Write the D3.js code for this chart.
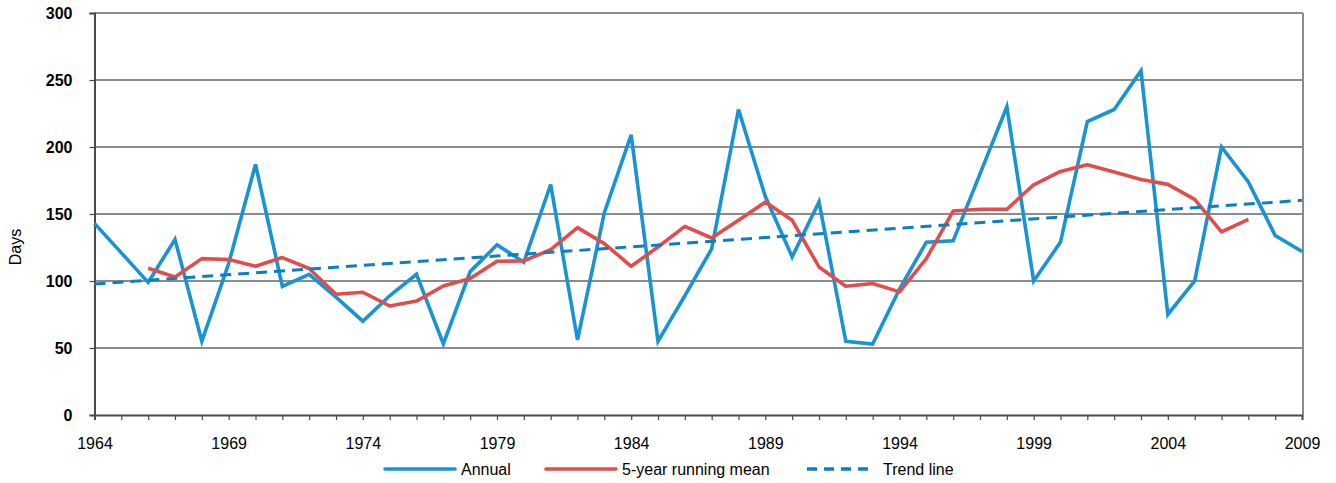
<!DOCTYPE html>
<html>
<head>
<meta charset="utf-8">
<script src="https://cdn.jsdelivr.net/npm/d3@7"></script>
<style>
  html, body { margin: 0; padding: 0; background: #fff; }
  svg text { font-family: "Liberation Sans", Arial, sans-serif; }
</style>
</head>
<body>
<svg id="chart" width="1336" height="483"></svg>
<script>
const years = d3.range(1964, 2010);
const annual = [143, 121, 99, 131, 55, 113, 187, 96, 105, 88,
                70, 89, 105, 53, 107, 127, 114, 172, 56, 151,
                209, 55, 89, 124, 228, 163, 118, 159, 55, 53,
                94, 129, 130, 180, 230, 100, 129, 219, 228, 257,
                75, 100, 200, 174, 134, 122];
const meanYears = d3.range(1966, 2008);
const runningMean = [109.5, 103, 116.7, 116, 111, 117.5, 109.3, 90.1, 91.6, 81.4,
                     85, 96.3, 101.8, 114.7, 115, 123.4, 139.8, 127.9, 111, 125.4,
                     140.8, 132.1, 145.3, 158.9, 145.3, 110.5, 96.1, 98.1, 91.9, 116.7,
                     152.2, 153.5, 153.5, 171.8, 181.8, 186.7, 181.3, 175.8, 172.1, 160.9,
                     136.6, 146];
const trendYears = [1964, 2009];
const trendValues = [97.8, 160.2];
const yTicks = [0, 50, 100, 150, 200, 250, 300];
const xLabelYears = [1964, 1969, 1974, 1979, 1984, 1989, 1994, 1999, 2004, 2009];
const seriesNames = ["Annual", "5-year running mean", "Trend line"];
const yTitle = "Days";

(function () {
const svg = d3.select("#chart");
const mLeft = 94.5, mRight = 1302, mTop = 13, mBottom = 415;
const x = d3.scaleLinear().domain([1964, 2009]).range([mLeft, mRight]);
const y = d3.scaleLinear().domain([0, 300]).range([mBottom, mTop]);

const blue = "#1894d3", red = "#e14d4d", trendBlue = "#0b7fc4";
const fs = "16px";

// gridlines
svg.append("g").selectAll("line").data(yTicks.filter(v => v > 0 && v < 300)).join("line")
  .attr("x1", mLeft).attr("x2", mRight)
  .attr("y1", d => y(d)).attr("y2", d => y(d))
  .attr("stroke", "#1a1a1a").attr("stroke-width", 1.2);

// plot frame (top and right)
svg.append("line").attr("x1", mLeft).attr("x2", mRight + 1).attr("y1", y(300)).attr("y2", y(300))
  .attr("stroke", "#8c8c8c").attr("stroke-width", 2);
svg.append("line").attr("x1", mRight + 1).attr("x2", mRight + 1).attr("y1", y(300)).attr("y2", mBottom)
  .attr("stroke", "#8c8c8c").attr("stroke-width", 2);

// y axis
const yAxis = d3.axisLeft(y).tickValues(yTicks).tickSize(5).tickPadding(17).tickFormat(d3.format("d"));
const gy = svg.append("g").attr("transform", `translate(${mLeft},0)`).call(yAxis);
gy.select(".domain").attr("stroke", "#4a4a4a").attr("stroke-width", 2);
gy.selectAll(".tick line").attr("stroke", "#4a4a4a").attr("stroke-width", 1.2);
gy.selectAll(".tick text").attr("font-size", fs).attr("font-weight", "bold")
  .attr("fill", "#000").style("font-family", "'Liberation Sans', Arial, sans-serif");

// x axis
const xAxis = d3.axisBottom(x).tickValues(years).tickSize(5).tickPadding(18)
  .tickFormat(d => xLabelYears.includes(d) ? String(d) : "");
const gx = svg.append("g").attr("transform", `translate(0,${mBottom})`).call(xAxis);
gx.select(".domain").attr("stroke", "#4a4a4a").attr("stroke-width", 2);
gx.selectAll(".tick line").attr("stroke", "#4a4a4a").attr("stroke-width", 1.2);
gx.selectAll(".tick text").attr("font-size", fs).attr("fill", "#000")
  .style("font-family", "'Liberation Sans', Arial, sans-serif");

// y title
svg.append("text").attr("transform", "translate(21,247) rotate(-90)")
  .attr("text-anchor", "middle").attr("font-size", fs).attr("fill", "#000").text(yTitle);

const line = d3.line().x(d => x(d[0])).y(d => y(d[1]));

// annual
svg.append("path").datum(years.map((yr, i) => [yr, annual[i]]))
  .attr("d", line).attr("fill", "none").attr("stroke", blue)
  .attr("stroke-width", 3.6).attr("stroke-linejoin", "miter");

// running mean
svg.append("path").datum(meanYears.map((yr, i) => [yr, runningMean[i]]))
  .attr("d", line).attr("fill", "none").attr("stroke", red)
  .attr("stroke-width", 3.6).attr("stroke-linejoin", "round");

// trend
svg.append("path").datum(trendYears.map((yr, i) => [yr, trendValues[i]]))
  .attr("d", line).attr("fill", "none").attr("stroke", trendBlue)
  .attr("stroke-width", 3).attr("stroke-dasharray", "11,7");

// legend
const legendItems = [
  { name: seriesNames[0], color: blue, dash: null, x1: 385, x2: 455, tx: 461 },
  { name: seriesNames[1], color: red, dash: null, x1: 546, x2: 616, tx: 622 },
  { name: seriesNames[2], color: trendBlue, dash: "10,7", x1: 807, x2: 870, tx: 883 }
];
const lg = svg.append("g");
legendItems.forEach(it => {
  lg.append("line").attr("x1", it.x1).attr("x2", it.x2).attr("y1", 469).attr("y2", 469)
    .attr("stroke", it.color).attr("stroke-width", 3.6)
    .attr("stroke-linecap", it.dash ? "butt" : "round")
    .attr("stroke-dasharray", it.dash);
  lg.append("text").attr("x", it.tx).attr("y", 469).attr("dy", "0.35em")
    .attr("font-size", fs).attr("fill", "#000").text(it.name);
});
})();
</script>
</body>
</html>
